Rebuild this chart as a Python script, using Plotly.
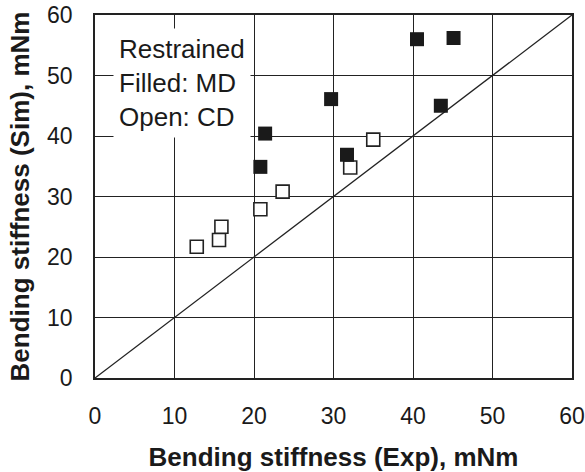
import plotly.graph_objects as go

# Filled: MD
md_exp = [20.8, 21.4, 29.7, 31.7, 40.5, 43.5, 45.1]
md_sim = [34.9, 40.4, 46.1, 36.9, 56.0, 45.0, 56.2]
# Open: CD
cd_exp = [12.8, 15.6, 15.9, 20.8, 23.6, 32.1, 35.0]
cd_sim = [21.7, 22.8, 25.0, 27.9, 30.8, 34.8, 39.4]

ticks = [0, 10, 20, 30, 40, 50, 60]
diag = [0, 60]

FONT = "Liberation Sans, Arial, Helvetica, sans-serif"

fig = go.Figure()
fig.add_trace(go.Scatter(x=diag, y=diag, mode="lines",
                         line=dict(color="#222222", width=1.3),
                         hoverinfo="skip", showlegend=False))
fig.add_trace(go.Scatter(x=cd_exp, y=cd_sim, mode="markers",
                         marker=dict(symbol="square", size=13, color="white",
                                     line=dict(color="#222222", width=1.6)),
                         showlegend=False))
fig.add_trace(go.Scatter(x=md_exp, y=md_sim, mode="markers",
                         marker=dict(symbol="square", size=14, color="#1a1a1a",
                                     line=dict(color="#1a1a1a", width=0)),
                         showlegend=False))

axis_common = dict(
    range=[0, 60], tickvals=ticks, ticktext=[str(t) for t in ticks],
    showgrid=True, gridcolor="#222222", gridwidth=1.2,
    zeroline=False, showline=True, linecolor="#222222", linewidth=1.5,
    mirror=True, ticks="", automargin=False,
    tickfont=dict(family=FONT, size=23, color="#1a1a1a"),
)

fig.update_layout(
    width=585, height=472,
    margin=dict(l=95, r=13, t=15, b=94),
    paper_bgcolor="white", plot_bgcolor="white",
    font=dict(family=FONT, color="#1a1a1a"),
    xaxis=dict(**axis_common, ticklabelstandoff=17,
               title=dict(text="<b>Bending stiffness (Exp), mNm</b>",
                          font=dict(family=FONT, size=26, color="#1a1a1a"),
                          standoff=27)),
    yaxis=dict(**axis_common, ticklabelstandoff=16,
               title=dict(text="<b>Bending stiffness (Sim), mNm</b>",
                          font=dict(family=FONT, size=26, color="#1a1a1a"),
                          standoff=10)),
    annotations=[dict(
        x=2.3, y=57.8, xref="x", yref="y", xanchor="left", yanchor="top",
        text="Restrained<br>Filled: MD<br>Open: CD", align="left",
        showarrow=False, bgcolor="white", borderpad=5,
        font=dict(family=FONT, size=26, color="#1a1a1a"),
    )],
)

fig.write_html("out.html")
